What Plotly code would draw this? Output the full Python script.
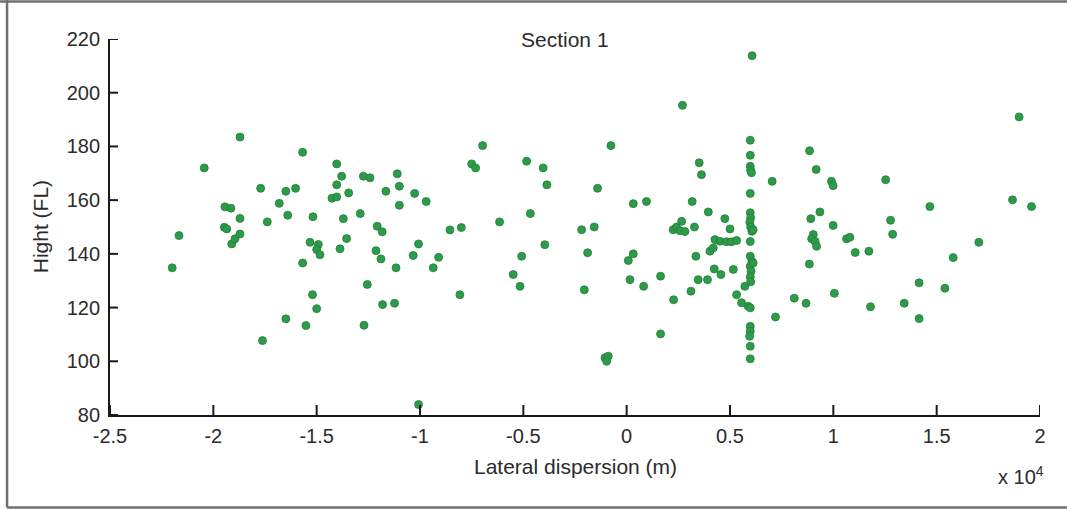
import plotly.graph_objects as go

# Lateral dispersion (in units of 10^4 m) and height (FL) of each observation
lateral_e4 = [
    -2.199, -2.166, -2.044, -1.871, -1.944, -1.915, -1.871, -1.947, -1.935, -1.911,
    -1.895, -1.871, -1.771, -1.739, -1.762, -1.681, -1.649, -1.640, -1.602, -1.649,
    -1.568, -1.568, -1.552, -1.518, -1.520, -1.500, -1.532, -1.492, -1.500, -1.484,
    -1.403, -1.379, -1.403, -1.426, -1.403, -1.345, -1.371, -1.387, -1.355, -1.289,
    -1.274, -1.242, -1.255, -1.271, -1.207, -1.183, -1.213, -1.189, -1.181, -1.123,
    -1.116, -1.165, -1.110, -1.100, -1.100, -1.026, -0.970, -1.007, -1.033, -0.910,
    -0.936, -1.007, -0.855, -0.800, -0.807,
    -0.697, -0.750, -0.731, -0.615, -0.484, -0.404, -0.386, -0.466, -0.396, -0.508,
    -0.549, -0.516, -0.218, -0.157, -0.189, -0.205, -0.141, -0.076, -0.105, -0.089,
    -0.097, 0.032, 0.096, 0.032, 0.008, 0.016, 0.082, 0.164, 0.164, 0.227,
    0.270, 0.225, 0.241, 0.258, 0.266, 0.282, 0.328, 0.311, 0.317, 0.351,
    0.362, 0.335, 0.346, 0.391, 0.395, 0.403, 0.419, 0.427, 0.451, 0.483,
    0.507, 0.532, 0.424, 0.456, 0.516, 0.475, 0.500, 0.532, 0.556, 0.588,
    0.572,
    0.607, 0.598, 0.598, 0.598, 0.600, 0.604, 0.598, 0.598, 0.600, 0.596,
    0.600, 0.606, 0.612, 0.598, 0.598, 0.606, 0.598, 0.602, 0.598, 0.600,
    0.598, 0.598, 0.598, 0.595, 0.598, 0.598, 0.612,
    0.704, 0.720, 0.811, 0.868, 0.885, 0.917, 0.991, 0.999, 0.935, 0.891,
    0.999, 0.903, 0.895, 0.912, 0.919, 0.884, 1.064, 1.080, 1.106, 1.172,
    1.005, 1.180, 1.253, 1.277, 1.287, 1.343, 1.415, 1.415, 1.467, 1.540,
    1.580, 1.704, 1.867, 1.899, 1.959,
]
height_fl = [
    134.8, 146.8, 172.0, 183.5, 157.5, 157.0, 153.2, 149.9, 149.3, 143.7,
    145.6, 147.4, 164.4, 151.9, 107.7, 158.8, 163.3, 154.4, 164.4, 115.8,
    177.8, 136.6, 113.3, 153.8, 124.8, 119.6, 144.3, 143.5, 141.6, 139.7,
    173.5, 168.9, 165.7, 160.7, 161.2, 162.7, 153.1, 141.9, 145.7, 155.0,
    168.9, 168.3, 128.6, 113.4, 150.3, 148.2, 141.2, 138.1, 121.1, 121.6,
    134.8, 163.3, 169.8, 165.2, 158.1, 162.5, 159.5, 143.7, 139.4, 138.7,
    134.8, 83.9, 148.9, 149.8, 124.8,
    180.3, 173.5, 172.0, 151.9, 174.5, 172.0, 165.7, 155.0, 143.4, 139.1,
    132.3, 127.9, 149.0, 150.0, 140.4, 126.6, 164.4, 180.3, 101.3, 101.9,
    100.0, 158.7, 159.5, 140.0, 137.5, 130.4, 127.9, 131.7, 110.2, 122.9,
    195.3, 149.0, 150.0, 148.6, 152.1, 148.3, 150.0, 126.1, 159.5, 173.9,
    169.5, 139.1, 130.4, 130.4, 155.6, 141.0, 142.2, 145.3, 144.7, 144.5,
    144.5, 145.0, 134.4, 132.3, 134.2, 153.1, 149.3, 124.8, 121.8, 120.5,
    127.9,
    213.8, 182.3, 176.7, 172.6, 171.1, 170.2, 162.5, 155.3, 153.4, 151.8,
    150.0, 148.4, 149.0, 144.6, 139.1, 137.2, 135.4, 133.5, 131.4, 129.6,
    119.9, 113.0, 111.2, 109.3, 105.6, 100.9, 136.6,
    167.0, 116.5, 123.5, 121.6, 178.4, 171.4, 167.0, 165.4, 155.6, 153.1,
    150.6, 147.2, 145.6, 144.6, 142.8, 136.2, 145.6, 146.2, 140.5, 141.0,
    125.3, 120.3, 167.6, 152.5, 147.3, 121.6, 129.2, 115.9, 157.6, 127.2,
    138.6, 144.3, 160.1, 191.0, 157.6,
]

x_tickvals = [-2.5, -2, -1.5, -1, -0.5, 0, 0.5, 1, 1.5, 2]
x_ticktext = ["-2.5", "-2", "-1.5", "-1", "-0.5", "0", "0.5", "1", "1.5", "2"]
y_tickvals = [80, 100, 120, 140, 160, 180, 200, 220]
y_ticktext = ["80", "100", "120", "140", "160", "180", "200", "220"]

FONT = "Liberation Sans, Arial, sans-serif"
TEXT = "#2b2b2b"
AXIS = "#1a1a1a"

fig = go.Figure(
    go.Scatter(
        x=lateral_e4,
        y=height_fl,
        mode="markers",
        marker=dict(size=8, color="#2e9b4a", line=dict(color="#1f8039", width=0.8)),
        hoverinfo="x+y",
    )
)

fig.update_xaxes(
    range=[-2.5, 2],
    tickmode="array",
    tickvals=x_tickvals,
    ticktext=x_ticktext,
    ticks="",
    showline=True,
    linecolor=AXIS,
    linewidth=1.8,
    showgrid=False,
    zeroline=False,
    ticklabelstandoff=2,
    tickfont=dict(family=FONT, size=20, color=TEXT),
)
fig.update_yaxes(
    range=[80, 220],
    tickmode="array",
    tickvals=y_tickvals,
    ticktext=y_ticktext,
    ticks="",
    showline=True,
    linecolor=AXIS,
    linewidth=1.8,
    showgrid=False,
    zeroline=False,
    ticklabelstandoff=4,
    tickfont=dict(family=FONT, size=20, color=TEXT),
)

# Inward tick marks anchored on the axis lines (length in pixels)
tick_line = dict(color=AXIS, width=2)
for v in x_tickvals:
    fig.add_shape(type="line", xref="x", yref="y", x0=v, x1=v,
                  ysizemode="pixel", yanchor=80, y0=0, y1=10, line=tick_line)
for v in y_tickvals:
    fig.add_shape(type="line", xref="x", yref="y", y0=v, y1=v,
                  xsizemode="pixel", xanchor=-2.5, x0=0, x1=8, line=tick_line)

# Labels and title placed in paper coordinates of the plotting area
fig.add_annotation(text="Section 1", xref="paper", yref="paper", x=0.489, y=1.0,
                   xanchor="center", yanchor="middle", showarrow=False,
                   font=dict(family=FONT, size=21, color=TEXT))
fig.add_annotation(text="Lateral dispersion (m)", xref="paper", yref="paper",
                   x=0.5, y=-0.137, xanchor="center", yanchor="middle", showarrow=False,
                   font=dict(family=FONT, size=21, color=TEXT))
fig.add_annotation(text="x 10<sup>4</sup>", xref="paper", yref="paper",
                   x=1.006, y=-0.16, xanchor="right", yanchor="middle", showarrow=False,
                   font=dict(family=FONT, size=20, color=TEXT))
fig.add_annotation(text="Hight (FL)", xref="paper", yref="paper",
                   x=-0.075, y=0.5, xanchor="center", yanchor="middle", textangle=-90,
                   showarrow=False, font=dict(family=FONT, size=21, color=TEXT))

# Gray frame around the figure
frame = dict(type="line", xref="paper", yref="paper", line=dict(color="#707070", width=2.5))
fig.add_shape(x0=-0.126, x1=1.03, y0=1.1, y1=1.1, **frame)
fig.add_shape(x0=-0.1107, x1=-0.1107, y0=1.11, y1=-0.246, **frame)
fig.add_shape(x0=-0.1107, x1=1.03, y0=-0.246, y1=-0.246, **frame)

fig.update_layout(
    width=1067,
    height=510,
    margin=dict(l=110, r=27, t=39, b=95),
    paper_bgcolor="white",
    plot_bgcolor="white",
    showlegend=False,
    font=dict(family=FONT, color=TEXT),
)

fig.write_html("out.html")
